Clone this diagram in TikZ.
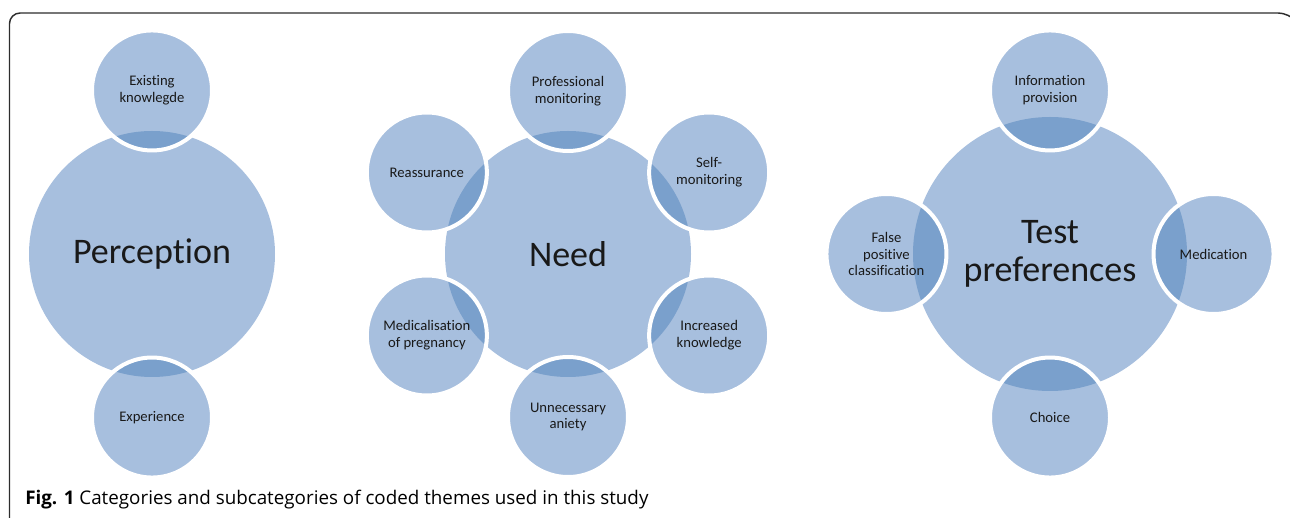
\documentclass[tikz,border=0pt]{standalone}
\usepackage{fontspec}
\setmainfont{Carlito}[Ligatures={NoCommon}]
\newfontfamily\captionfont{Open Sans}
\usepackage{xcolor}
\usetikzlibrary{positioning}

\definecolor{bubble}{RGB}{167,191,222}
\definecolor{overlap}{RGB}{122,160,204}
\definecolor{framegray}{RGB}{45,45,45}
\definecolor{labeltext}{RGB}{25,25,25}

\pgfdeclarelayer{background}
\pgfsetlayers{background,main}

\begin{document}
\begin{tikzpicture}[x=0.75pt, y=0.75pt,
  theme/.style={circle, minimum size=184.5pt, inner sep=0pt, align=center, text=labeltext, font=\fontsize{27}{28}\selectfont},
  bigtheme/.style={theme, minimum size=205.5pt},
  sub/.style={circle, minimum size=90pt, inner sep=0pt, align=center, text=labeltext, font=\fontsize{11}{12.5}\selectfont},
  rim/.style={draw=white, line width=3pt}
]
\useasboundingbox (0,0) rectangle (1290,518);

% Frame
\draw[framegray, line width=1.1pt, rounded corners=8pt] (9.5,-10) |- (1289,505) -- (1296,497);

% Categories
\node[theme] (perception) at (152,264) {Perception};
\node[theme] (need) at (568,264) {Need};
\node[bigtheme] (test) at (1050,264) {Test\\preferences};

% Subcategories
\node[sub, above=-15pt of perception] (know) {Existing\\knowlegde};
\node[sub, below=-15pt of perception] (exper) {Experience};

\node[sub] (prof) at ([shift={(90:163)}]need.center) {Professional\\monitoring};
\node[sub] (self) at ([shift={(30:163)}]need.center) {Self-\\monitoring};
\node[sub] (incr) at ([shift={(-30:163)}]need.center) {Increased\\knowledge};
\node[sub] (unnec) at ([shift={(-90:163)}]need.center) {Unnecessary\\aniety};
\node[sub] (medic) at ([shift={(210:163)}]need.center) {Medicalisation\\of pregnancy};
\node[sub] (reass) at ([shift={(150:163)}]need.center) {Reassurance};

\node[sub, above=-25.5pt of test] (info) {Information\\provision};
\node[sub, right=-25.5pt of test] (medi) {Medication};
\node[sub, below=-25.5pt of test] (choice) {Choice};
\node[sub, left=-25.5pt of test] (falsepos) {False\\positive\\classification};

% Caption
\node[anchor=base west, inner sep=0pt, font=\captionfont\fontsize{14.1}{15}\selectfont] (caption) at (25,13)
  {\textbf{Fig. 1} Categories and subcategories of coded themes used in this study};

% Bubbles
\begin{pgfonlayer}{background}
  \fill[bubble] (perception.center) circle (123);
  \fill[bubble] (need.center) circle (123);
  \fill[bubble] (test.center) circle (137);
  \foreach \s/\m/\r in {know/perception/123, exper/perception/123,
      prof/need/123, self/need/123, incr/need/123, unnec/need/123, medic/need/123, reass/need/123,
      info/test/137, medi/test/137, choice/test/137, falsepos/test/137} {
    \fill[bubble] (\s.center) circle (60);
    \begin{scope}
      \clip (\s.center) circle (60);
      \fill[overlap] (\m.center) circle (\r);
    \end{scope}
    \draw[rim] (\s.center) circle (60);
  }
\end{pgfonlayer}

\end{tikzpicture}
\end{document}
